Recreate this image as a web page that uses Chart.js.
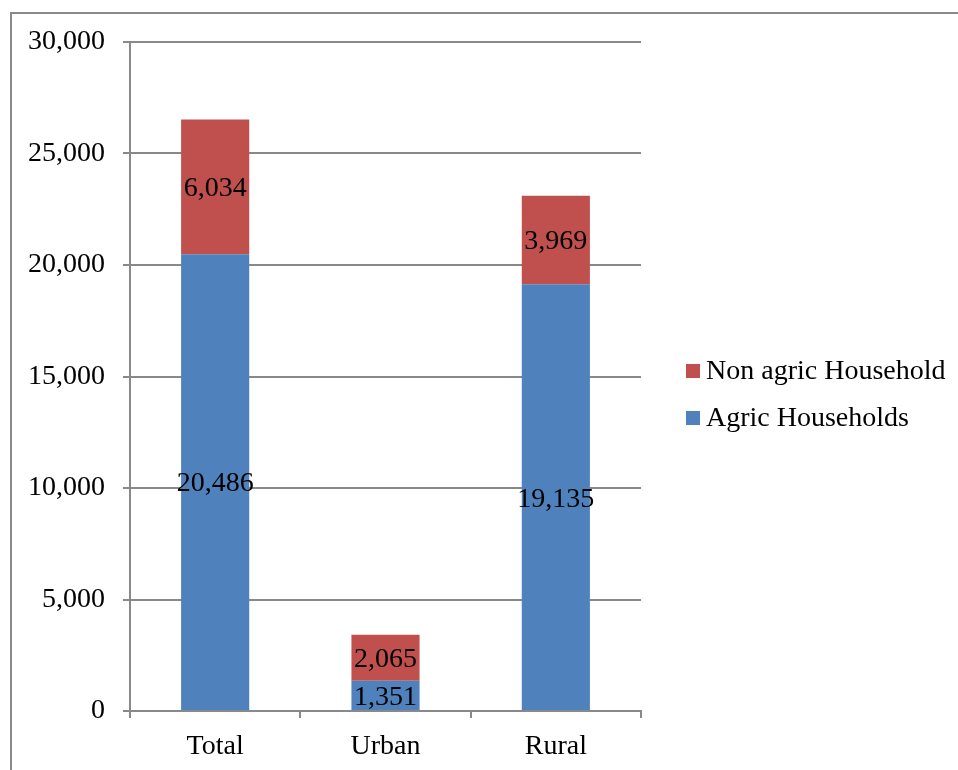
<!DOCTYPE html>
<html>
<head>
<meta charset="utf-8">
<script src="https://cdn.jsdelivr.net/npm/chart.js@4"></script>
<style>
    html, body { margin: 0; padding: 0; background: #fff; }
    #wrap { position: relative; width: 958px; height: 770px; overflow: hidden; }
    #frame {
        position: absolute; left: 10px; top: 12px; width: 960px; height: 770px;
        border-left: 2px solid #8a8a8a; border-top: 2px solid #8a8a8a;
        box-sizing: border-box;
    }
    #householdChart { position: absolute; left: 0; top: 0; }
</style>
</head>
<body>
<div id="wrap">
    <div id="frame"></div>
    <canvas id="householdChart" width="958" height="770"></canvas>
</div>
<script>
// Households by type and area
const areas = ['Total', 'Urban', 'Rural'];
const agricHouseholds = [20486, 1351, 19135];
const nonAgricHouseholds = [6034, 2065, 3969];
const yTicks = [0, 5000, 10000, 15000, 20000, 25000, 30000];

const FONT = '"Liberation Serif", "Times New Roman", serif';
const FONT_SIZE = 28;
const GRID = '#898989';
const fmt = v => Number(v).toLocaleString('en-US');

// Value labels centred inside each stacked segment
const segmentLabels = {
    id: 'segmentLabels',
    afterDatasetsDraw(chart) {
        const ctx = chart.ctx;
        ctx.save();
        ctx.font = FONT_SIZE + 'px ' + FONT;
        ctx.fillStyle = '#000';
        ctx.textAlign = 'center';
        ctx.textBaseline = 'middle';
        chart.data.datasets.forEach((ds, i) => {
            chart.getDatasetMeta(i).data.forEach((bar, j) => {
                const y = (bar.y + bar.base) / 2;
                ctx.fillText(fmt(ds.data[j]), bar.x, y + 2);
            });
        });
        ctx.restore();
    }
};

// Legend on the right, top series first
const sideLegend = {
    id: 'sideLegend',
    afterDraw(chart) {
        const ctx = chart.ctx;
        const x = chart.chartArea.right + 45;
        const rows = [1, 0];
        ctx.save();
        ctx.font = FONT_SIZE + 'px ' + FONT;
        ctx.textBaseline = 'middle';
        ctx.textAlign = 'left';
        rows.forEach((dsIndex, r) => {
            const ds = chart.data.datasets[dsIndex];
            const y = 371 + r * 47;
            ctx.fillStyle = ds.backgroundColor;
            ctx.fillRect(x, y - 7, 14, 14);
            ctx.fillStyle = '#000';
            ctx.fillText(ds.label, x + 20, y + 1);
        });
        ctx.restore();
    }
};

new Chart(document.getElementById('householdChart'), {
    type: 'bar',
    data: {
        labels: areas,
        datasets: [
            {
                label: 'Agric Households',
                data: agricHouseholds,
                backgroundColor: '#4f81bd',
                categoryPercentage: 1,
                barPercentage: 0.4
            },
            {
                label: 'Non agric Household',
                data: nonAgricHouseholds,
                backgroundColor: '#c0504d',
                categoryPercentage: 1,
                barPercentage: 0.4
            }
        ]
    },
    options: {
        responsive: false,
        animation: false,
        layout: { padding: { top: 42, right: 317, bottom: 0, left: 0 } },
        plugins: {
            legend: { display: false },
            tooltip: { enabled: false }
        },
        scales: {
            x: {
                stacked: true,
                afterFit: s => { s.height = 59; },
                border: { color: GRID, width: 2 },
                grid: { drawOnChartArea: false, color: GRID, lineWidth: 2, tickLength: 7 },
                ticks: { color: '#000', font: { family: FONT, size: FONT_SIZE }, padding: 12 }
            },
            y: {
                stacked: true,
                min: 0,
                max: 30000,
                afterFit: s => { s.width = 130; },
                afterBuildTicks: s => { s.ticks = yTicks.map(v => ({ value: v })); },
                border: { color: GRID, width: 2 },
                grid: { color: GRID, lineWidth: 2, tickLength: 7 },
                ticks: {
                    color: '#000',
                    font: { family: FONT, size: FONT_SIZE },
                    padding: 18,
                    callback: v => fmt(v)
                }
            }
        }
    },
    plugins: [segmentLabels, sideLegend]
});
</script>
</body>
</html>
